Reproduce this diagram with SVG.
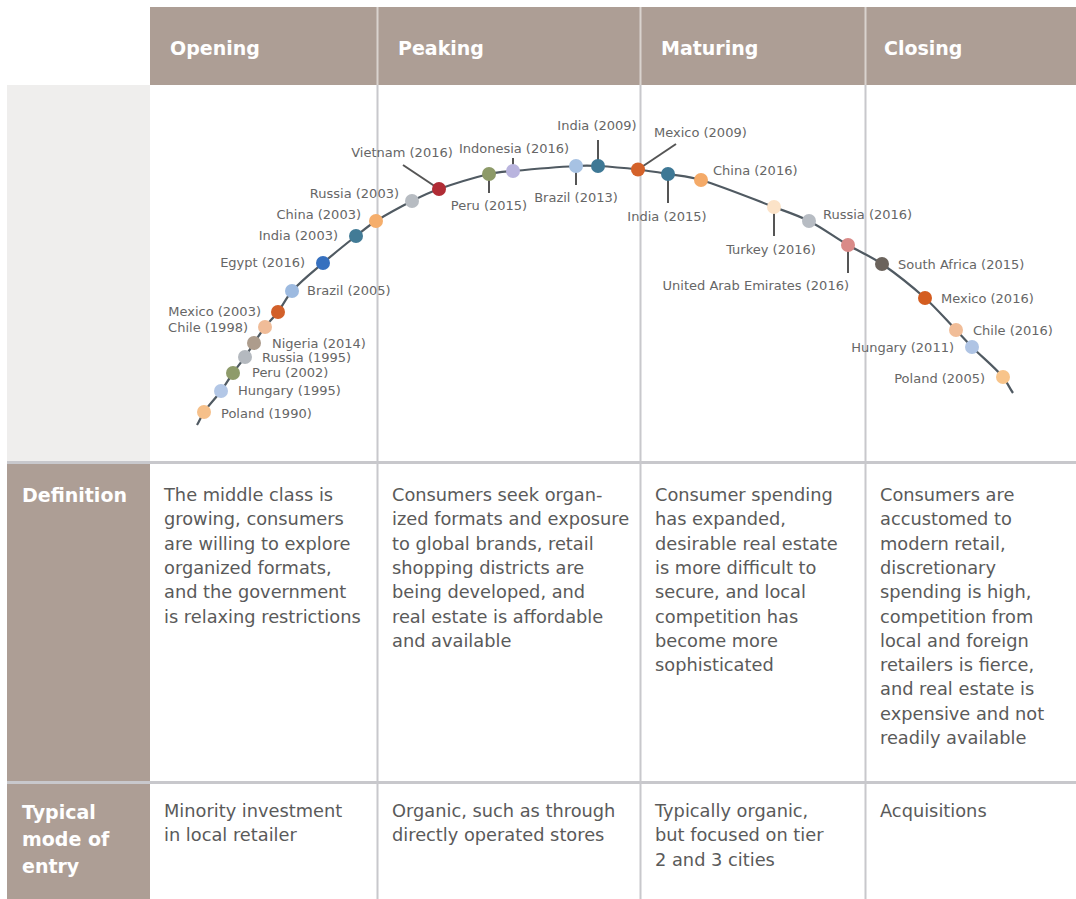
<svg xmlns="http://www.w3.org/2000/svg" width="1076" height="899" viewBox="0 0 1076 899">
  <style>
    .band { fill: #ad9e95; }
    .hd { font-family: "DejaVu Sans", sans-serif; font-weight: bold; font-size: 19px; fill: #ffffff; }
    .body { font-family: "DejaVu Sans", sans-serif; font-size: 17.8px; fill: #5a5a5a; }
    .lbl { font-family: "DejaVu Sans", sans-serif; font-size: 13px; fill: #666666; }
    .grid { stroke: #c8c8cc; stroke-width: 2; fill: none; }
    .hgrid { stroke: #c8c8cc; stroke-width: 3; fill: none; }
    .hsep { stroke: #d9d3ce; stroke-width: 2; }
    .curve { stroke: #505a62; stroke-width: 2.2; fill: none; }
    .lead { stroke: #555555; stroke-width: 2; }
    .mid { text-anchor: middle; }
    .end { text-anchor: end; }
  </style>

  <!-- table frame -->
  <g id="frame">
    <rect x="150" y="7" width="926" height="78" class="band"/>
    <rect x="7" y="85" width="143" height="377" fill="#efeeed"/>
    <rect x="7" y="462" width="143" height="437" class="band"/>
    <line x1="377.5" y1="7" x2="377.5" y2="85" class="hsep"/>
    <line x1="640.5" y1="7" x2="640.5" y2="85" class="hsep"/>
    <line x1="865.5" y1="7" x2="865.5" y2="85" class="hsep"/>
    <line x1="377.5" y1="85" x2="377.5" y2="899" class="grid"/>
    <line x1="640.5" y1="85" x2="640.5" y2="899" class="grid"/>
    <line x1="865.5" y1="85" x2="865.5" y2="899" class="grid"/>
    <line x1="7" y1="462.5" x2="1076" y2="462.5" class="hgrid"/>
    <line x1="7" y1="782.5" x2="1076" y2="782.5" class="hgrid"/>
  </g>

  <!-- column headings -->
  <g id="headings">
    <text x="170" y="55" class="hd">Opening</text>
    <text x="398" y="55" class="hd">Peaking</text>
    <text x="661" y="55" class="hd">Maturing</text>
    <text x="884" y="55" class="hd">Closing</text>
  </g>

  <!-- lifecycle curve and leader lines -->
  <g id="connectors">
    <path class="curve" d="M197,425 C199.33,421.27 201.67,415.3 204,412 C209.67,403.97 215.33,398.62 221,391 C225,385.62 229,378.67 233,373 C237,367.33 241,362.72 245,357 C248,352.71 251,347.5 254,343 C257.67,337.5 261.33,331.74 265,327 C269.33,321.4 273.67,317.78 278,312 C282.67,305.78 287.33,296.08 292,291 C302.33,279.75 312.67,271.88 323,263 C334,253.55 345,244.71 356,236 C362.67,230.72 369.33,225.17 376,221 C388,213.5 400,207.1 412,201 C421,196.43 430,192.16 439,189 C455.67,183.15 472.33,178.05 489,174 C497,172.06 505,171.74 513,171 C534,169.07 555,167.24 576,166 C583.33,165.57 590.67,165.59 598,166 C611.33,166.75 624.67,167.98 638,169.5 C648,170.64 658,172.33 668,174 C679,175.84 690,176.58 701,180 C725.33,187.57 749.67,197.75 774,207 C785.67,211.43 797.33,215 809,221 C822,227.68 835,237.34 848,245 C859.33,251.67 870.67,256.2 882,264 C896.33,273.86 910.67,285.22 925,298 C935.33,307.21 945.67,319.23 956,330 C961.33,335.56 966.67,341.67 972,347 C982.33,357.33 992.67,365.41 1003,377 C1006.33,380.74 1009.67,388.34 1013,393"/>
    <line class="lead" x1="439" y1="189" x2="403" y2="165"/>
    <line class="lead" x1="489" y1="174" x2="489" y2="193"/>
    <line class="lead" x1="513" y1="171" x2="513" y2="158"/>
    <line class="lead" x1="576" y1="166" x2="576" y2="185"/>
    <line class="lead" x1="598" y1="166" x2="598" y2="140"/>
    <line class="lead" x1="638" y1="169.5" x2="676" y2="144"/>
    <line class="lead" x1="668" y1="174" x2="668" y2="203"/>
    <line class="lead" x1="774" y1="207" x2="774" y2="236"/>
    <line class="lead" x1="848" y1="245" x2="848" y2="273"/>
  </g>

  <!-- opening markets -->
  <g id="poland-1990"><circle cx="204" cy="412" r="7" fill="#f6c08a"/><text x="221" y="418" class="lbl">Poland (1990)</text></g>
  <g id="hungary-1995"><circle cx="221" cy="391" r="7" fill="#b3c7e6"/><text x="238" y="395" class="lbl">Hungary (1995)</text></g>
  <g id="peru-2002"><circle cx="233" cy="373" r="7" fill="#8e9b6a"/><text x="252" y="377" class="lbl">Peru (2002)</text></g>
  <g id="russia-1995"><circle cx="245" cy="357" r="7" fill="#b4b9bf"/><text x="262" y="362" class="lbl">Russia (1995)</text></g>
  <g id="nigeria-2014"><circle cx="254" cy="343" r="7" fill="#ad9c8c"/><text x="272" y="348" class="lbl">Nigeria (2014)</text></g>
  <g id="chile-1998"><circle cx="265" cy="327" r="7" fill="#f0bc98"/><text x="248" y="332" class="lbl end">Chile (1998)</text></g>
  <g id="mexico-2003"><circle cx="278" cy="312" r="7" fill="#d2602a"/><text x="261" y="316" class="lbl end">Mexico (2003)</text></g>
  <g id="brazil-2005"><circle cx="292" cy="291" r="7" fill="#9dbae0"/><text x="307" y="295" class="lbl">Brazil (2005)</text></g>
  <g id="egypt-2016"><circle cx="323" cy="263" r="7" fill="#3670bf"/><text x="305" y="267" class="lbl end">Egypt (2016)</text></g>
  <g id="india-2003"><circle cx="356" cy="236" r="7" fill="#427b96"/><text x="338" y="240" class="lbl end">India (2003)</text></g>
  <g id="china-2003"><circle cx="376" cy="221" r="7" fill="#f5ae6c"/><text x="361" y="219" class="lbl end">China (2003)</text></g>
  <g id="russia-2003"><circle cx="412" cy="201" r="7" fill="#b7bcc2"/><text x="399" y="198" class="lbl end">Russia (2003)</text></g>

  <!-- peaking markets -->
  <g id="vietnam-2016"><circle cx="439" cy="189" r="7" fill="#b02c35"/><text x="402" y="157" class="lbl mid">Vietnam (2016)</text></g>
  <g id="peru-2015"><circle cx="489" cy="174" r="7" fill="#8d9a68"/><text x="489" y="210" class="lbl mid">Peru (2015)</text></g>
  <g id="indonesia-2016"><circle cx="513" cy="171" r="7" fill="#b9b4de"/><text x="514" y="153" class="lbl mid">Indonesia (2016)</text></g>
  <g id="brazil-2013"><circle cx="576" cy="166" r="7" fill="#a7c2e3"/><text x="576" y="202" class="lbl mid">Brazil (2013)</text></g>
  <g id="india-2009"><circle cx="598" cy="166" r="7" fill="#3e7895"/><text x="597" y="130" class="lbl mid">India (2009)</text></g>

  <!-- maturing markets -->
  <g id="mexico-2009"><circle cx="638" cy="169.5" r="7" fill="#d4622a"/><text x="654" y="137" class="lbl">Mexico (2009)</text></g>
  <g id="india-2015"><circle cx="668" cy="174" r="7" fill="#3e7895"/><text x="667" y="221" class="lbl mid">India (2015)</text></g>
  <g id="china-2016"><circle cx="701" cy="180" r="7" fill="#f4aa68"/><text x="713" y="175" class="lbl">China (2016)</text></g>
  <g id="turkey-2016"><circle cx="774" cy="207" r="7" fill="#fce3c8"/><text x="771" y="254" class="lbl mid">Turkey (2016)</text></g>
  <g id="russia-2016"><circle cx="809" cy="221" r="7" fill="#b7bcc3"/><text x="823" y="219" class="lbl">Russia (2016)</text></g>
  <g id="uae-2016"><circle cx="848" cy="245" r="7" fill="#d98a88"/><text x="849" y="290" class="lbl end">United Arab Emirates (2016)</text></g>

  <!-- closing markets -->
  <g id="south-africa-2015"><circle cx="882" cy="264" r="7" fill="#6b635c"/><text x="898" y="269" class="lbl">South Africa (2015)</text></g>
  <g id="mexico-2016"><circle cx="925" cy="298" r="7" fill="#d45d20"/><text x="941" y="303" class="lbl">Mexico (2016)</text></g>
  <g id="chile-2016"><circle cx="956" cy="330" r="7" fill="#f1bd98"/><text x="973" y="335" class="lbl">Chile (2016)</text></g>
  <g id="hungary-2011"><circle cx="972" cy="347" r="7" fill="#afc4e4"/><text x="954" y="352" class="lbl end">Hungary (2011)</text></g>
  <g id="poland-2005"><circle cx="1003" cy="377" r="7" fill="#f8c48a"/><text x="985" y="383" class="lbl end">Poland (2005)</text></g>

  <!-- definition row -->
  <g id="definition">
    <text x="22" y="502" class="hd">Definition</text>
    <text class="body" x="164" y="501">
      <tspan x="164" y="501">The middle class is</tspan>
      <tspan x="164" y="525.3">growing, consumers</tspan>
      <tspan x="164" y="549.6">are willing to explore</tspan>
      <tspan x="164" y="573.9">organized formats,</tspan>
      <tspan x="164" y="598.2">and the government</tspan>
      <tspan x="164" y="622.5">is relaxing restrictions</tspan>
    </text>
    <text class="body" x="392" y="501">
      <tspan x="392" y="501">Consumers seek organ-</tspan>
      <tspan x="392" y="525.3">ized formats and exposure</tspan>
      <tspan x="392" y="549.6">to global brands, retail</tspan>
      <tspan x="392" y="573.9">shopping districts are</tspan>
      <tspan x="392" y="598.2">being developed, and</tspan>
      <tspan x="392" y="622.5">real estate is affordable</tspan>
      <tspan x="392" y="646.8">and available</tspan>
    </text>
    <text class="body" x="655" y="501">
      <tspan x="655" y="501">Consumer spending</tspan>
      <tspan x="655" y="525.3">has expanded,</tspan>
      <tspan x="655" y="549.6">desirable real estate</tspan>
      <tspan x="655" y="573.9">is more difficult to</tspan>
      <tspan x="655" y="598.2">secure, and local</tspan>
      <tspan x="655" y="622.5">competition has</tspan>
      <tspan x="655" y="646.8">become more</tspan>
      <tspan x="655" y="671.1">sophisticated</tspan>
    </text>
    <text class="body" x="880" y="501">
      <tspan x="880" y="501">Consumers are</tspan>
      <tspan x="880" y="525.3">accustomed to</tspan>
      <tspan x="880" y="549.6">modern retail,</tspan>
      <tspan x="880" y="573.9">discretionary</tspan>
      <tspan x="880" y="598.2">spending is high,</tspan>
      <tspan x="880" y="622.5">competition from</tspan>
      <tspan x="880" y="646.8">local and foreign</tspan>
      <tspan x="880" y="671.1">retailers is fierce,</tspan>
      <tspan x="880" y="695.4">and real estate is</tspan>
      <tspan x="880" y="719.7">expensive and not</tspan>
      <tspan x="880" y="744">readily available</tspan>
    </text>
  </g>

  <!-- typical mode of entry row -->
  <g id="entry-mode">
    <text class="hd" x="22" y="819">
      <tspan x="22" y="819">Typical</tspan>
      <tspan x="22" y="846">mode of</tspan>
      <tspan x="22" y="873">entry</tspan>
    </text>
    <text class="body" x="164" y="817">
      <tspan x="164" y="817">Minority investment</tspan>
      <tspan x="164" y="841.3">in local retailer</tspan>
    </text>
    <text class="body" x="392" y="817">
      <tspan x="392" y="817">Organic, such as through</tspan>
      <tspan x="392" y="841.3">directly operated stores</tspan>
    </text>
    <text class="body" x="655" y="817">
      <tspan x="655" y="817">Typically organic,</tspan>
      <tspan x="655" y="841.3">but focused on tier</tspan>
      <tspan x="655" y="865.6">2 and 3 cities</tspan>
    </text>
    <text class="body" x="880" y="817">Acquisitions</text>
  </g>
</svg>
